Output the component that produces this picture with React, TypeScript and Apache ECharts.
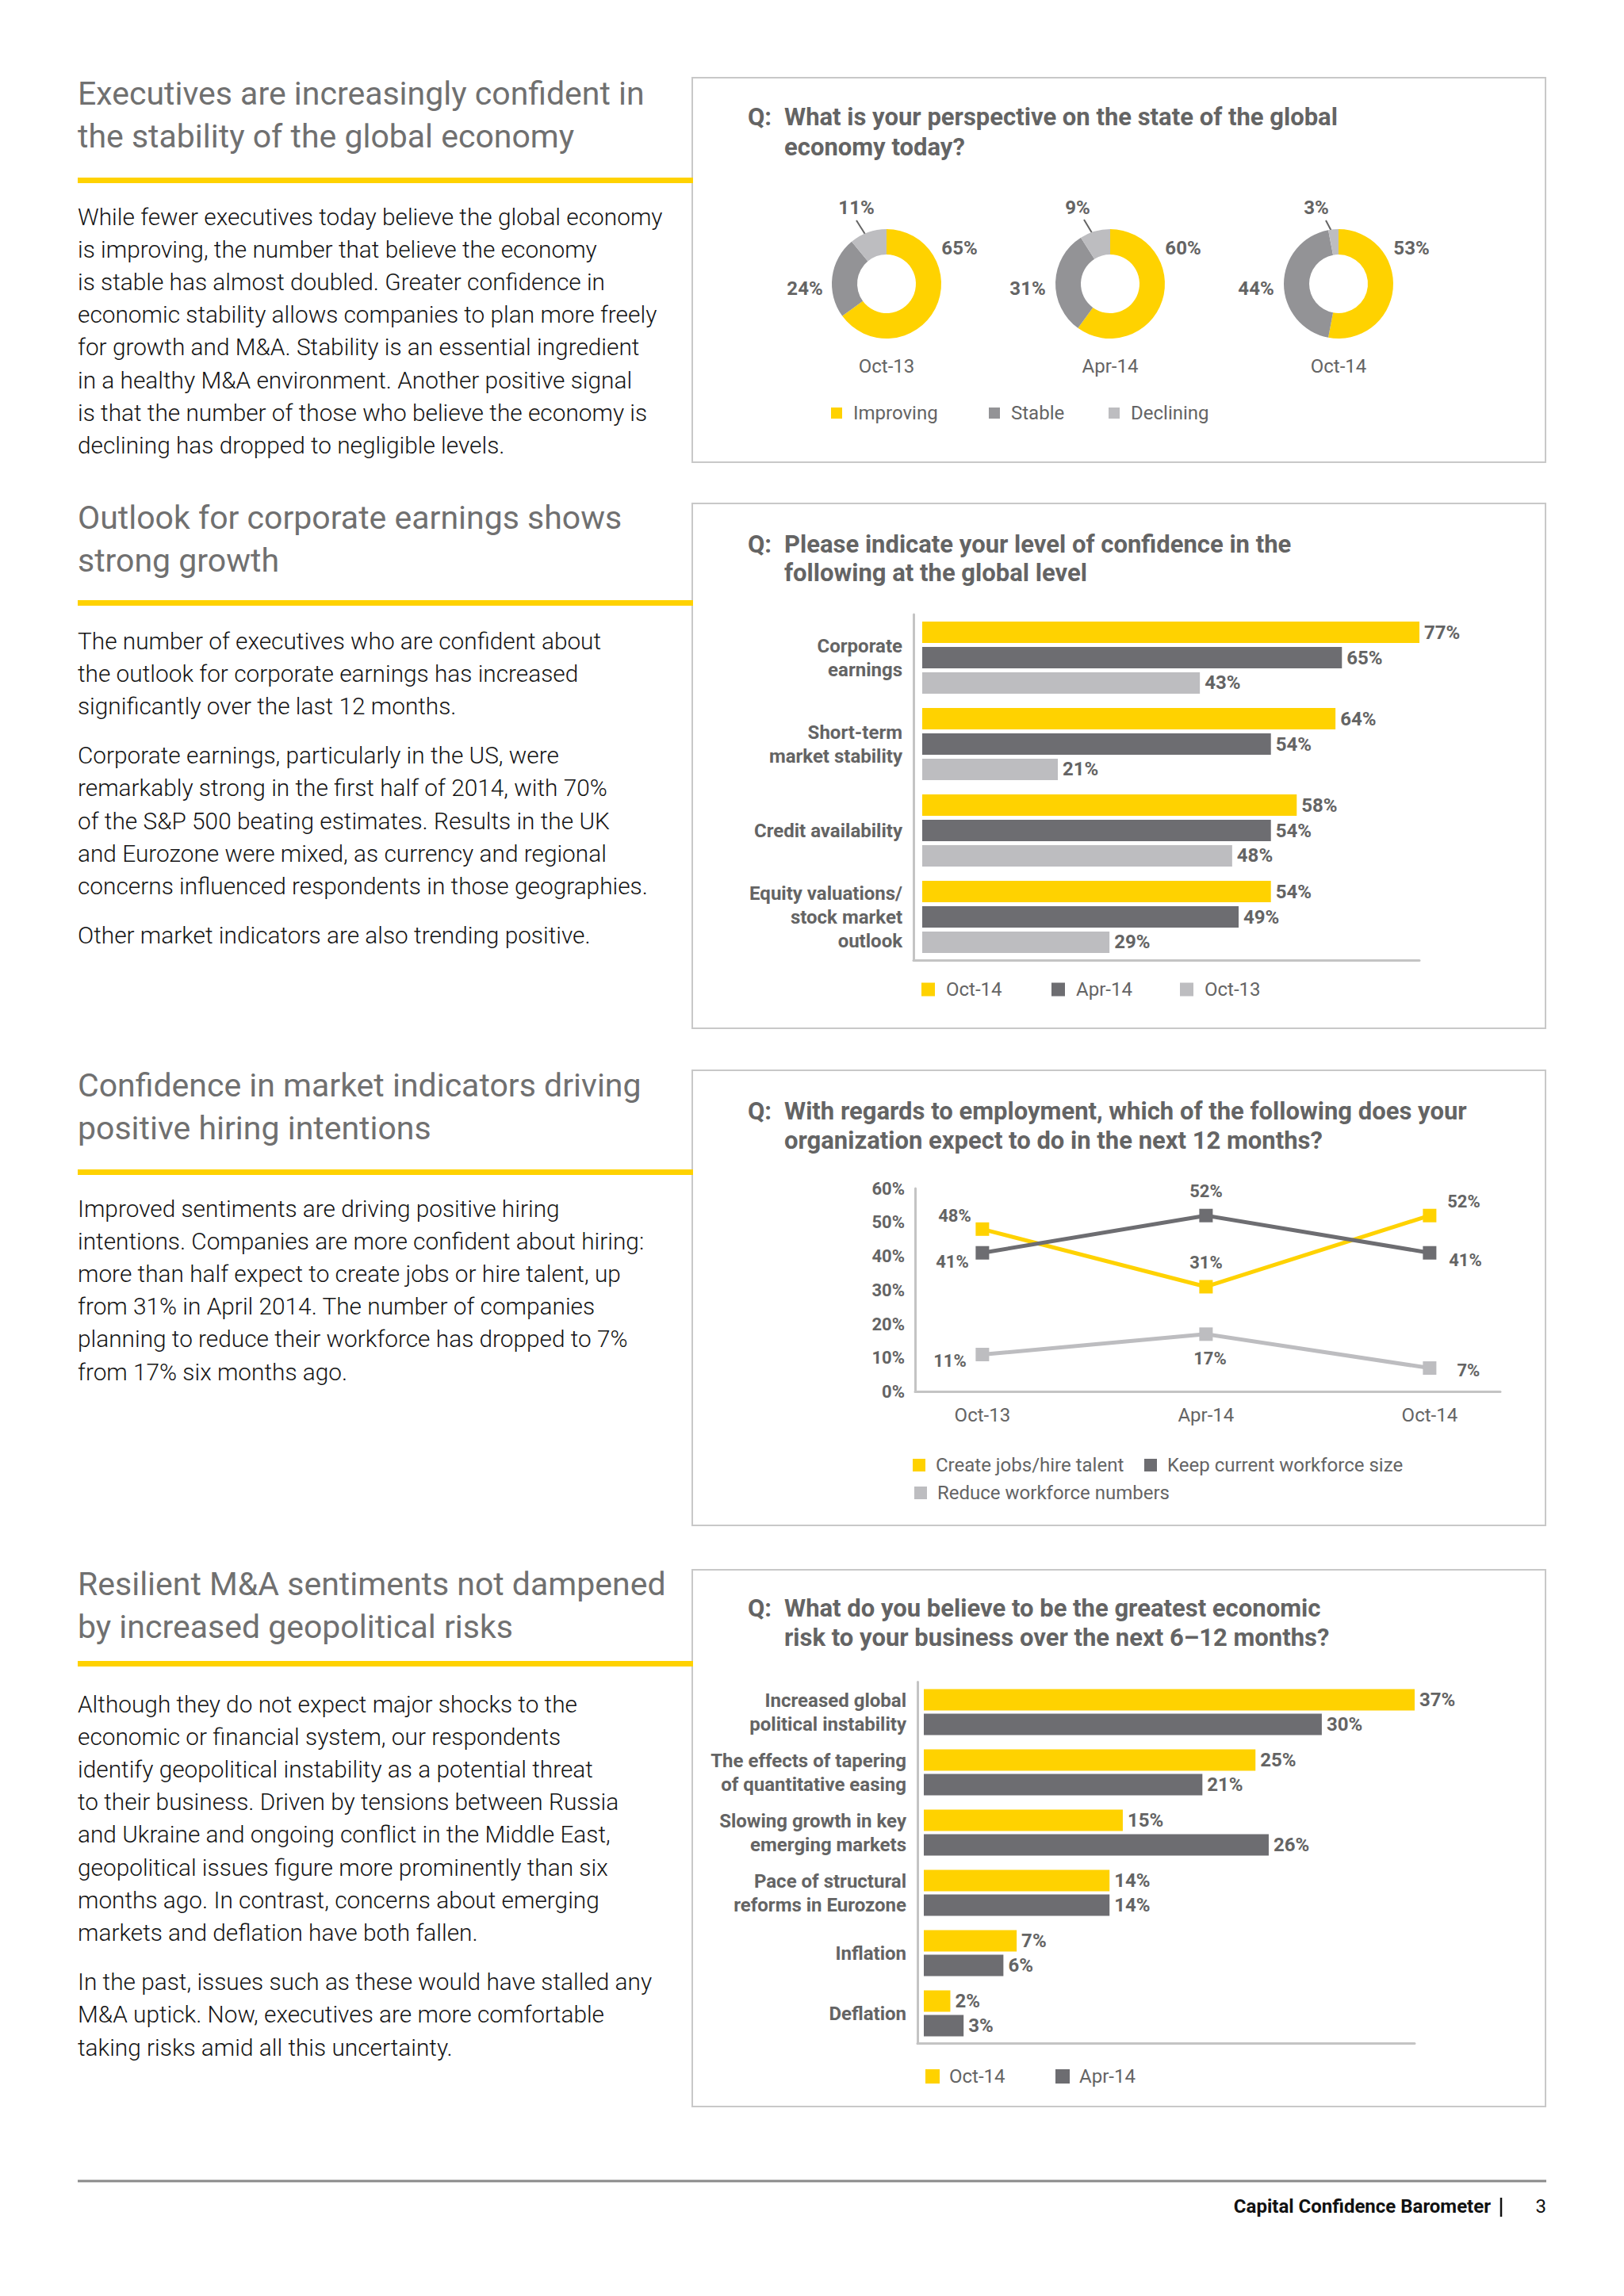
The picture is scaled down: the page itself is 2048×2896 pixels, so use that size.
import React, { useEffect, useRef } from "react";
import * as echarts from "echarts";

const PAGE_W = 2048;
const PAGE_H = 2896;
const FONT = "Roboto, 'Noto Sans', 'DejaVu Sans', sans-serif";

const YELLOW = "#FFD200";
const DARK = "#6D6D71";
const LIGHT = "#BDBDC0";
const MID = "#939396";
const TXT = "#646464";
const AXIS = "#C4C4C4";

// ---------- Chart 1: outlook donuts ----------
const donutPeriods = ["Oct-13", "Apr-14", "Oct-14"];
const outlookNames = ["Improving", "Stable", "Declining"];
const improving = [65, 60, 53];
const stable = [24, 31, 44];
const declining = [11, 9, 3];

// ---------- Chart 2: confidence bars ----------
const confidenceCats = [
  "Corporate\nearnings",
  "Short-term\nmarket stability",
  "Credit availability",
  "Equity valuations/\nstock market\noutlook",
];
const confOct14 = [77, 64, 58, 54];
const confApr14 = [65, 54, 54, 49];
const confOct13 = [43, 21, 48, 29];

// ---------- Chart 3: employment lines ----------
const employPeriods = ["Oct-13", "Apr-14", "Oct-14"];
const createJobs = [48, 31, 52];
const keepSize = [41, 52, 41];
const reduceWorkforce = [11, 17, 7];

// ---------- Chart 4: risk bars ----------
const riskCats = [
  "Increased global\npolitical instability",
  "The effects of tapering\nof quantitative easing",
  "Slowing growth in key\nemerging markets",
  "Pace of structural\nreforms in Eurozone",
  "Inflation",
  "Deflation",
];
const riskOct14 = [37, 25, 15, 14, 7, 2];
const riskApr14 = [30, 21, 26, 14, 6, 3];

// ---------- Left column text ----------
const s1Heading = ["Executives are increasingly confident in", "the stability of the global economy"];
const s1Body = [
  [
    "While fewer executives today believe the global economy",
    "is improving, the number that believe the economy",
    "is stable has almost doubled. Greater confidence in",
    "economic stability allows companies to plan more freely",
    "for growth and M&A. Stability is an essential ingredient",
    "in a healthy M&A environment. Another positive signal",
    "is that the number of those who believe the economy is",
    "declining has dropped to negligible levels.",
  ],
];
const s2Heading = ["Outlook for corporate earnings shows", "strong growth"];
const s2Body = [
  [
    "The number of executives who are confident about",
    "the outlook for corporate earnings has increased",
    "significantly over the last 12 months.",
  ],
  [
    "Corporate earnings, particularly in the US, were",
    "remarkably strong in the first half of 2014, with 70%",
    "of the S&P 500 beating estimates. Results in the UK",
    "and Eurozone were mixed, as currency and regional",
    "concerns influenced respondents in those geographies.",
  ],
  ["Other market indicators are also trending positive."],
];
const s3Heading = ["Confidence in market indicators driving", "positive hiring intentions"];
const s3Body = [
  [
    "Improved sentiments are driving positive hiring",
    "intentions. Companies are more confident about hiring:",
    "more than half expect to create jobs or hire talent, up",
    "from 31% in April 2014. The number of companies",
    "planning to reduce their workforce has dropped to 7%",
    "from 17% six months ago.",
  ],
];
const s4Heading = ["Resilient M&A sentiments not dampened", "by increased geopolitical risks"];
const s4Body = [
  [
    "Although they do not expect major shocks to the",
    "economic or financial system, our respondents",
    "identify geopolitical instability as a potential threat",
    "to their business. Driven by tensions between Russia",
    "and Ukraine and ongoing conflict in the Middle East,",
    "geopolitical issues figure more prominently than six",
    "months ago. In contrast, concerns about emerging",
    "markets and deflation have both fallen.",
  ],
  [
    "In the past, issues such as these would have stalled any",
    "M&A uptick. Now, executives are more comfortable",
    "taking risks amid all this uncertainty.",
  ],
];

const q1 = ["What is your perspective on the state of the global", "economy today?"];
const q2 = ["Please indicate your level of confidence in the", "following at the global level"];
const q3 = ["With regards to employment, which of the following does your", "organization expect to do in the next 12 months?"];
const q4 = ["What do you believe to be the greatest economic", "risk to your business over the next 6–12 months?"];

// ---------- layout constants ----------
const donutCX = [1118, 1400, 1688];
const donutCY = 358;
const donutLabelOffsets = [
  [[92, -45], [-103, 6], [-38, -96]],
  [[92, -45], [-104, 6], [-41, -96]],
  [[92, -45], [-104, 6], [-28, -96]],
];
const donutLeader = [
  [[-38, -80], [-26, -61]],
  [[-33, -81], [-21, -61]],
  [[-16, -80], [-6, -61]],
];
const lineLabelOffsets = [
  [[-35, -17], [0, -30], [43, -18]],
  [[-38, 11], [0, -31], [45, 9]],
  [[-41, 8], [5, 31], [49, 3]],
];

function txt(x: number, y: number, text: string, size: number, weight: any, color: string, align = "left") {
  return {
    type: "text",
    x,
    y,
    silent: true,
    style: {
      text,
      fontSize: size,
      fontWeight: weight,
      fontFamily: FONT,
      fill: color,
      align,
      verticalAlign: "middle",
      textAlign: align,
      textVerticalAlign: "middle",
    },
  };
}

function section(heading: string[], headY: number, ruleY: number, body: string[][], bodyY: number) {
  const els: any[] = [];
  heading.forEach((h, i) => els.push(txt(98, headY + i * 54, h, 41, "normal", "#707070")));
  els.push({ type: "rect", silent: true, shape: { x: 98, y: ruleY, width: 776, height: 7 }, style: { fill: YELLOW } });
  let y = bodyY;
  body.forEach((para, pi) => {
    if (pi > 0) y += 21;
    para.forEach((line) => {
      els.push(txt(98, y, line, 29.8, 300, "#141414"));
      y += 41.2;
    });
  });
  return els;
}

function question(lines: string[], y1: number, y2: number) {
  return [
    txt(943, y1, "Q:", 31, "bold", TXT),
    txt(989, y1, lines[0], 31, "bold", TXT),
    txt(989, y2, lines[1], 31, "bold", TXT),
  ];
}

function box(y1: number, y2: number) {
  return {
    type: "rect",
    silent: true,
    shape: { x: 873, y: y1, width: 1949 - 873, height: y2 - y1 },
    style: { fill: "none", stroke: "#C8C8C8", lineWidth: 2 },
  };
}

function legendItem(name: string, left: number, cy: number, size: number, extraGap: number) {
  return {
    data: [name],
    left,
    top: cy - 12,
    orient: "horizontal",
    padding: 0,
    icon: "rect",
    itemWidth: size,
    itemHeight: size,
    selectedMode: false,
    textStyle: {
      fontSize: 24,
      fontFamily: FONT,
      color: TXT,
      lineHeight: 24,
      padding: [0, 0, 0, extraGap],
    },
  };
}

function buildOption(): any {
  const pieColors = [YELLOW, MID, LIGHT];
  const pieSeries = donutPeriods.map((p, k) => {
    const cx = donutCX[k];
    const vals = [improving[k], stable[k], declining[k]];
    return {
      type: "pie",
      name: "donut " + p,
      center: [cx, donutCY],
      radius: [37, 69],
      startAngle: 90,
      clockwise: true,
      avoidLabelOverlap: false,
      silent: true,
      emphasis: { disabled: true },
      label: {
        show: true,
        position: "outside",
        formatter: "{c}%",
        fontSize: 24,
        fontWeight: "bold",
        fontFamily: FONT,
        color: TXT,
      },
      labelLine: { show: false, lineStyle: { color: TXT, width: 2 } },
      labelLayout: (params: any) => {
        const i = params.dataIndex;
        const off = donutLabelOffsets[k][i];
        const out: any = { x: cx + off[0], y: donutCY + off[1], align: "center", verticalAlign: "middle" };
        if (i === 2) {
          const a = donutLeader[k][0];
          const b = donutLeader[k][1];
          out.labelLinePoints = [
            [cx + a[0], donutCY + a[1]],
            [cx + (a[0] + b[0]) / 2, donutCY + (a[1] + b[1]) / 2],
            [cx + b[0], donutCY + b[1]],
          ];
        }
        return out;
      },
      data: outlookNames.map((n, i) => ({
        name: n,
        value: vals[i],
        itemStyle: { color: pieColors[i] },
        labelLine: { show: i === 2 },
      })),
    };
  });

  const barLabel = {
    show: true,
    position: "right",
    distance: 6,
    formatter: "{c}%",
    fontSize: 24,
    fontWeight: "bold",
    fontFamily: FONT,
    color: TXT,
  };

  const confSeries = [
    { name: "Oct-14", data: confOct14, color: YELLOW },
    { name: "Apr-14", data: confApr14, color: DARK },
    { name: "Oct-13", data: confOct13, color: LIGHT },
  ].map((s) => ({
    type: "bar",
    name: s.name,
    xAxisIndex: 0,
    yAxisIndex: 0,
    data: s.data,
    barWidth: 27,
    barGap: "18.5%",
    itemStyle: { color: s.color },
    label: barLabel,
    silent: true,
    emphasis: { disabled: true },
  }));

  const riskSeries = [
    { name: "Oct-14", data: riskOct14, color: YELLOW },
    { name: "Apr-14", data: riskApr14, color: DARK },
  ].map((s) => ({
    type: "bar",
    name: s.name,
    xAxisIndex: 2,
    yAxisIndex: 2,
    data: s.data,
    barWidth: 27,
    barGap: "15%",
    itemStyle: { color: s.color },
    label: barLabel,
    silent: true,
    emphasis: { disabled: true },
  }));

  const lineSeries = [
    { name: "Create jobs/hire talent", data: createJobs, color: YELLOW },
    { name: "Keep current workforce size", data: keepSize, color: DARK },
    { name: "Reduce workforce numbers", data: reduceWorkforce, color: LIGHT },
  ].map((s, si) => ({
    type: "line",
    name: s.name,
    xAxisIndex: 1,
    yAxisIndex: 1,
    symbol: "rect",
    symbolSize: 17,
    showAllSymbol: true,
    silent: true,
    emphasis: { disabled: true },
    lineStyle: { color: s.color, width: 5 },
    itemStyle: { color: s.color },
    label: {
      show: true,
      position: "inside",
      formatter: (p: any) => p.value[1] + "%",
      fontSize: 22,
      fontWeight: "bold",
      fontFamily: FONT,
      color: TXT,
    },
    data: s.data.map((v, i) => ({
      value: [i, v],
      label: { offset: lineLabelOffsets[si][i] },
    })),
  }));

  const hiddenValueAxis = (gridIndex: number, min: number, max: number) => ({
    type: "value",
    gridIndex,
    min,
    max,
    axisLine: { show: true, onZero: false, lineStyle: { color: AXIS, width: 3 } },
    axisTick: { show: false },
    axisLabel: { show: false },
    splitLine: { show: false },
  });

  const catAxis = (gridIndex: number, data: string[]) => ({
    type: "category",
    gridIndex,
    data,
    inverse: true,
    axisLine: { show: true, onZero: false, lineStyle: { color: AXIS, width: 3 } },
    axisTick: { show: false },
    axisLabel: {
      fontSize: 24,
      fontWeight: "bold",
      fontFamily: FONT,
      color: TXT,
      lineHeight: 30,
      margin: 14,
      align: "right",
    },
  });

  const graphic: any[] = [
    box(98, 583),
    box(635, 1297),
    box(1350, 1924),
    box(1980, 2657),
    ...section(s1Heading, 118, 224, s1Body, 273),
    ...section(s2Heading, 653, 757, s2Body, 808),
    ...section(s3Heading, 1369, 1475, s3Body, 1524),
    ...section(s4Heading, 1998, 2095, s4Body, 2149),
    ...question(q1, 147, 185),
    ...question(q2, 686, 722),
    ...question(q3, 1401, 1438),
    ...question(q4, 2028, 2065),
    ...donutPeriods.map((p, k) => txt(donutCX[k], 462, p, 24, "normal", TXT, "center")),
    {
      type: "line",
      silent: true,
      shape: { x1: 98, y1: 2751, x2: 1950, y2: 2751 },
      style: { stroke: "#8A8A8A", lineWidth: 3 },
    },
    txt(1880, 2783, "Capital Confidence Barometer", 24, "bold", "#111", "right"),
    {
      type: "line",
      silent: true,
      shape: { x1: 1893, y1: 2772, x2: 1893, y2: 2796 },
      style: { stroke: "#111", lineWidth: 2.5 },
    },
    txt(1950, 2783, "3", 24, "normal", "#111", "right"),
  ];

  return {
    animation: false,
    backgroundColor: "#ffffff",
    textStyle: { fontFamily: FONT },
    grid: [
      { left: 1152, top: 775, width: 638, height: 436, containLabel: false, outerBoundsMode: "none" },
      { left: 1154, top: 1499, width: 738, height: 256.5, containLabel: false, outerBoundsMode: "none" },
      { left: 1157, top: 2121.5, width: 627, height: 456, containLabel: false, outerBoundsMode: "none" },
    ],
    xAxis: [
      hiddenValueAxis(0, -1.35, 77),
      {
        type: "value",
        gridIndex: 1,
        min: -0.301,
        max: 2.316,
        axisLine: { show: true, onZero: false, lineStyle: { color: AXIS, width: 3 } },
        axisTick: { show: false },
        splitLine: { show: false },
        axisLabel: {
          customValues: [0, 1, 2],
          formatter: (v: number) => employPeriods[Math.round(v)] ?? "",
          fontSize: 24,
          fontFamily: FONT,
          color: TXT,
          margin: 17,
        },
      },
      hiddenValueAxis(2, -0.478, 37),
    ],
    yAxis: [
      catAxis(0, confidenceCats),
      {
        type: "value",
        gridIndex: 1,
        min: 0,
        max: 60,
        interval: 10,
        axisLine: { show: true, onZero: false, lineStyle: { color: AXIS, width: 3 } },
        axisTick: { show: false },
        splitLine: { show: false },
        axisLabel: {
          formatter: "{value}%",
          fontSize: 22,
          fontWeight: "bold",
          fontFamily: FONT,
          color: TXT,
          margin: 13,
        },
      },
      catAxis(2, riskCats),
    ],
    legend: [
      legendItem("Improving", 1048, 521, 14, 9),
      legendItem("Stable", 1247, 521, 14, 9),
      legendItem("Declining", 1398, 521, 14, 9),
      legendItem("Oct-14", 1162, 1248, 17, 9),
      legendItem("Apr-14", 1326, 1248, 17, 9),
      legendItem("Oct-13", 1488, 1248, 17, 9),
      legendItem("Create jobs/hire talent", 1151, 1848, 16, 8),
      legendItem("Keep current workforce size", 1443, 1848, 16, 8),
      legendItem("Reduce workforce numbers", 1153, 1883, 16, 8),
      legendItem("Oct-14", 1167, 2619, 18, 7),
      legendItem("Apr-14", 1331, 2619, 18, 7),
    ],
    series: [...pieSeries, ...confSeries, ...lineSeries, ...riskSeries],
    graphic: { elements: graphic },
  };
}

export default function App() {
  const ref = useRef<HTMLDivElement>(null);
  useEffect(() => {
    if (!ref.current) return;
    const chart = echarts.init(ref.current, undefined, { renderer: "svg", width: PAGE_W, height: PAGE_H });
    chart.setOption(buildOption());
    return () => chart.dispose();
  }, []);
  return (
    <div
      ref={ref}
      style={{ position: "absolute", left: 0, top: 0, width: PAGE_W, height: PAGE_H, background: "#fff" }}
    />
  );
}
